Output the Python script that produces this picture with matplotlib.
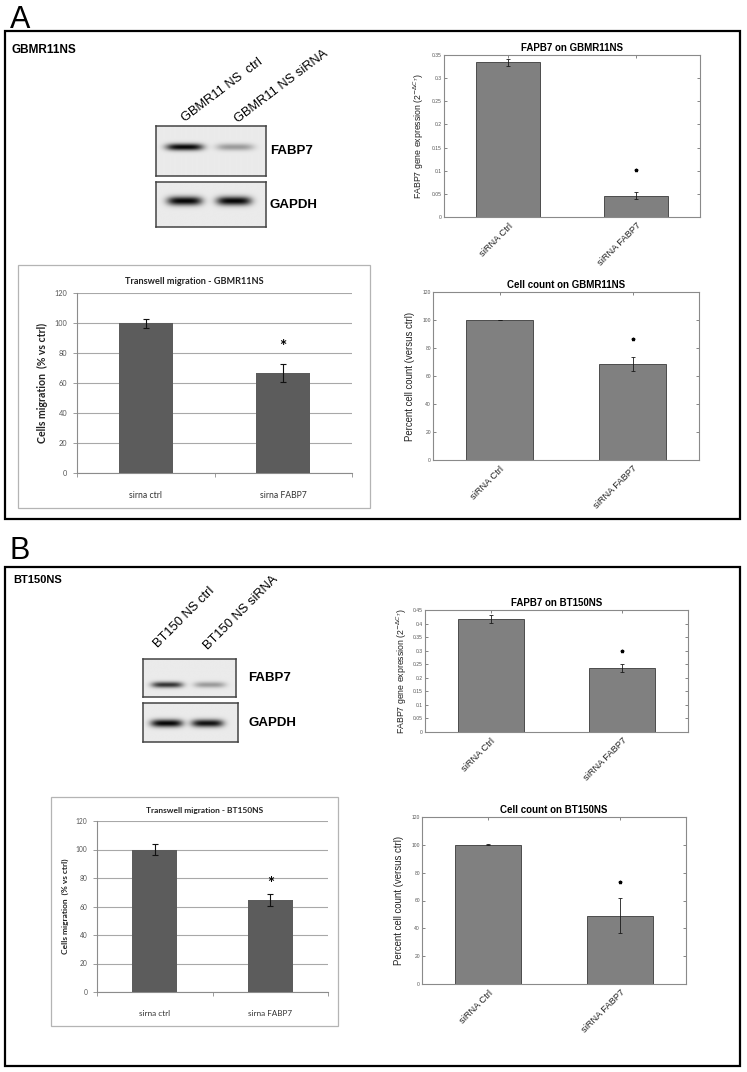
import numpy as np
import matplotlib
matplotlib.use('Agg')
import matplotlib.pyplot as plt
from matplotlib.patches import Rectangle

# ---------------- data ----------------
matlab_groups = ['siRNA Ctrl', 'siRNA FABP7']
excel_groups = ['sirna ctrl', 'sirna FABP7']

blot_lanes_a = ['GBMR11 NS  ctrl', 'GBMR11 NS siRNA']
blot_lanes_b = ['BT150 NS ctrl', 'BT150 NS siRNA']
blot_rows = ['FABP7', 'GAPDH']
blot_a_fabp7 = [1.0, 0.35]
blot_a_gapdh = [1.0, 1.0]
blot_b_fabp7 = [0.8, 0.35]
blot_b_gapdh = [1.0, 0.95]

a_expr = [0.334, 0.046]
a_expr_err = [0.007, 0.007]
a_expr_star = 0.1015

a_count = [100, 68.6]
a_count_err = [0.3, 5.1]
a_count_star = 86.7

a_migr = [100, 67]
a_migr_err = [3, 6]
a_migr_star = 84

b_expr = [0.416, 0.235]
b_expr_err = [0.014, 0.014]
b_expr_star = 0.300

b_count = [100, 49.1]
b_count_err = [0.4, 12.5]
b_count_star = 73.5

b_migr = [100, 64.5]
b_migr_err = [3.8, 4.0]
b_migr_star = 76

# ---------------- layout helpers ----------------
W, H = 747, 1072
fig = plt.figure(figsize=(W / 100, H / 100), dpi=100)
fig.patch.set_facecolor('white')

ARIAL = ['Liberation Sans', 'DejaVu Sans']
CALIBRI = ['Lato', 'DejaVu Sans']


def px_axes(l, t, r, b):
    return fig.add_axes([l / W, 1 - b / H, (r - l) / W, (b - t) / H])


def fig_rect(l, t, r, b, **kw):
    fig.add_artist(Rectangle((l / W, 1 - b / H), (r - l) / W, (b - t) / H,
                             transform=fig.transFigure, fill=False, **kw))


def fig_text(x, y, s, **kw):
    fig.text(x / W, 1 - y / H, s, **kw)


# ---------------- panel frames ----------------
fig_text(10, 28, 'A', fontsize=22, family=ARIAL, va='baseline')
fig_text(10, 559, 'B', fontsize=22, family=ARIAL, va='baseline')
fig_rect(5, 31, 740, 519, ec='black', lw=1.6)
fig_rect(5, 567, 740, 1066, ec='black', lw=1.6)
fig_text(12, 50, 'GBMR11NS', fontsize=8.5, fontweight='bold', family=ARIAL, va='center')
fig_text(13, 580, 'BT150NS', fontsize=8, fontweight='bold', family=ARIAL, va='center')


# ---------------- western blots ----------------
def blot(box, intens, xcen, halfw, ycen, bh, label, label_x):
    ax = px_axes(*box)
    nx, ny = 240, 100
    X, Y = np.meshgrid(np.linspace(0, 1, nx), np.linspace(0, 1, ny))
    img = np.zeros_like(X)
    for c, v in zip(xcen, intens):
        img += v * np.exp(-((X - c) / halfw) ** 4) * np.exp(-((Y - ycen) / bh) ** 2)
    gray = 0.92 - 0.9 * np.clip(img, 0, 1)
    ax.imshow(gray, cmap='gray', vmin=0, vmax=1, extent=[0, 1, 1, 0],
              aspect='auto', interpolation='bilinear')
    ax.set_xticks([]); ax.set_yticks([])
    for s in ax.spines.values():
        s.set_color('#444444'); s.set_linewidth(1.1)
    fig_text(label_x, (box[1] + box[3]) / 2, label, fontsize=9.5, fontweight='bold',
             family=ARIAL, va='center')


blot((156, 126, 266, 176), blot_a_fabp7, [0.26, 0.72], 0.17, 0.42, 0.07, blot_rows[0], 270)
blot((156, 182, 266, 227), blot_a_gapdh, [0.26, 0.71], 0.16, 0.42, 0.10, blot_rows[1], 270)
blot((143, 659, 236, 697), blot_b_fabp7, [0.26, 0.72], 0.17, 0.68, 0.08, blot_rows[0], 248)
blot((143, 703, 238, 742), blot_b_gapdh, [0.25, 0.68], 0.17, 0.52, 0.10, blot_rows[1], 248)

for (x0, y0), lab in zip([(185, 122), (238, 123)], blot_lanes_a):
    fig_text(x0, y0, lab, fontsize=9.3, family=ARIAL, rotation=37,
             rotation_mode='anchor', ha='left', va='baseline')
for (x0, y0), lab in zip([(158, 648), (208, 650)], blot_lanes_b):
    fig_text(x0, y0, lab, fontsize=9.3, family=ARIAL, rotation=45,
             rotation_mode='anchor', ha='left', va='baseline')


# ---------------- MATLAB style charts ----------------
def matlab_chart(box, title, values, errs, star, ymax, ystep, ylabel, lsize, lpad):
    ax = px_axes(*box)
    x = np.arange(1, len(values) + 1)
    ax.bar(x, values, width=0.5, color='#808080', edgecolor='#3a3a3a', linewidth=0.6, zorder=2)
    ax.errorbar(x, values, yerr=errs, fmt='none', ecolor='#1a1a1a', elinewidth=0.6,
                capsize=1.2, capthick=0.6, zorder=3)
    ax.plot([x[-1]], [star], marker='*', ms=2.5, color='black', ls='none', zorder=3)
    ax.set_xlim(0.5, 2.5)
    ax.set_ylim(0, ymax)
    ticks = np.arange(0, ymax + ystep / 2, ystep)
    ax.set_yticks(ticks)
    ax.set_yticklabels(['%g' % round(t, 3) for t in ticks], fontsize=3.6,
                       color='#555555', family=ARIAL)
    ax.set_xticks(x)
    ax.set_xticklabels(matlab_groups, rotation=45, ha='right', va='top',
                       rotation_mode='anchor', fontsize=6.7, color='#222222', family=ARIAL)
    ax.tick_params(direction='in', length=2, width=0.5, color='#555555',
                   top=True, right=True, pad=1.5)
    ax.tick_params(axis='x', pad=3)
    for s in ax.spines.values():
        s.set_color('#8a8a8a'); s.set_linewidth(0.8)
    ax.set_title(title, fontsize=7, fontweight='bold', family=ARIAL, pad=3)
    ax.set_ylabel(ylabel, fontsize=lsize, family=ARIAL, color='#222222', labelpad=lpad)
    return ax


expr_label = r'FABP7 gene expression (2$^{-\Delta C_T}$)'
count_label = 'Percent cell count (versus ctrl)'
matlab_chart((444, 55, 700, 217), 'FAPB7 on GBMR11NS', a_expr, a_expr_err,
             a_expr_star, 0.35, 0.05, expr_label, 6.3, 4)
matlab_chart((433, 292, 699, 460), 'Cell count on GBMR11NS', a_count, a_count_err,
             a_count_star, 120, 20, count_label, 6.9, 5)
matlab_chart((425, 610, 688, 732), 'FAPB7 on BT150NS', b_expr, b_expr_err,
             b_expr_star, 0.45, 0.05, expr_label, 6.3, 3)
matlab_chart((422, 817, 686, 984), 'Cell count on BT150NS', b_count, b_count_err,
             b_count_star, 120, 20, count_label, 6.9, 5)


# ---------------- Excel style charts ----------------
def excel_chart(outer, box, title, title_xy, values, errs, star, xpad, sizes):
    tsize, ysize, ticksize, xsize, lsize = sizes
    fig_rect(*outer, ec='#b4b4b4', lw=0.9)
    ax = px_axes(*box)
    x = np.arange(1, len(values) + 1)
    ax.bar(x, values, width=0.39, color='#5c5c5c', zorder=3)
    ax.errorbar(x, values, yerr=errs, fmt='none', ecolor='#111111', elinewidth=0.8,
                capsize=2.2, capthick=0.8, zorder=4)
    ax.text(x[-1], star, '*', ha='center', va='center', fontsize=lsize + 7,
            fontweight='bold', family=CALIBRI, zorder=4)
    ax.set_xlim(0.5, 2.5)
    ax.set_ylim(0, 120)
    ax.set_yticks(np.arange(0, 121, 20))
    ax.set_yticklabels([str(v) for v in range(0, 121, 20)], fontsize=ticksize,
                       color='#555555', family=CALIBRI)
    ax.yaxis.grid(True, color='#a8a8a8', lw=0.8)
    ax.set_axisbelow(True)
    for side in ('top', 'right'):
        ax.spines[side].set_visible(False)
    for side in ('left', 'bottom'):
        ax.spines[side].set_color('#8c8c8c'); ax.spines[side].set_linewidth(0.8)
    ax.set_xticks(x)
    ax.set_xticklabels(excel_groups, fontsize=xsize, color='#333333', family=CALIBRI)
    ax.set_xticks([0.5, 1.5, 2.5], minor=True)
    ax.tick_params(axis='x', which='major', length=0, pad=xpad)
    ax.tick_params(axis='x', which='minor', length=3, width=0.6, color='#8c8c8c', direction='out')
    ax.tick_params(axis='y', length=3, width=0.6, color='#8c8c8c', direction='out', pad=4)
    fig_text(title_xy[0], title_xy[1], title, fontsize=tsize, fontweight='bold',
             family=CALIBRI, color='#222222', ha='center', va='center')
    ax.set_ylabel('Cells migration  (% vs ctrl)', fontsize=ysize, fontweight='bold',
                  family=CALIBRI, labelpad=5, color='#222222')
    return ax


excel_chart((18, 265, 370, 508), (77, 293, 352, 473), 'Transwell migration - GBMR11NS',
            (194, 282), a_migr, a_migr_err, a_migr_star, 13, (6.6, 7.6, 5.3, 6.2, 5.5))
excel_chart((51, 797, 338, 1026), (97, 821, 328, 992), 'Transwell migration - BT150NS',
            (205, 810), b_migr, b_migr_err, b_migr_star, 13, (6.0, 6.0, 4.8, 5.9, 5.0))

fig.savefig('out.png', dpi=100, facecolor='white')
